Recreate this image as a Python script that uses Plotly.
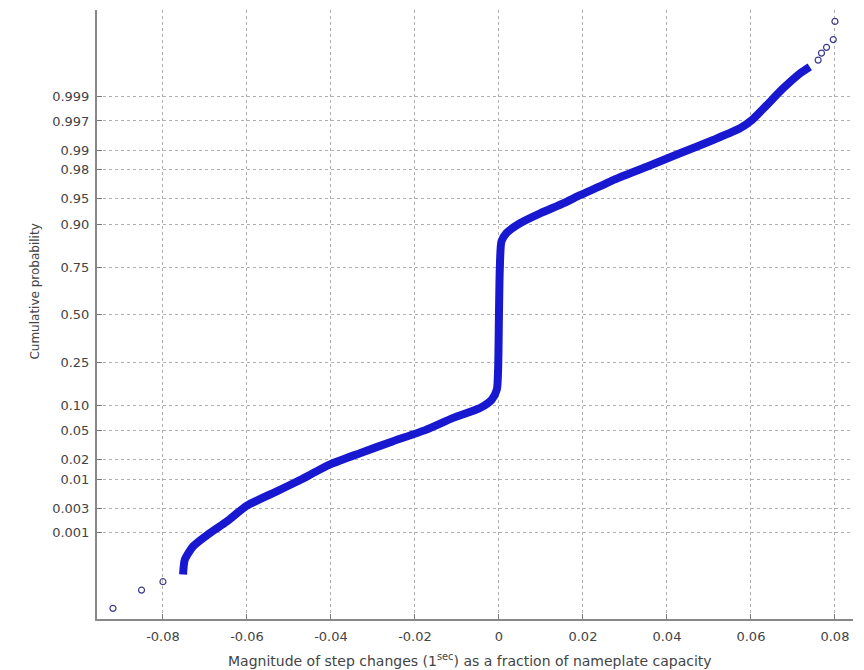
from statistics import NormalDist
import plotly.graph_objects as go

# ---------------- data ----------------
tick_probs = [0.001, 0.003, 0.01, 0.02, 0.05, 0.10, 0.25, 0.50, 0.75, 0.90, 0.95, 0.98, 0.99, 0.997, 0.999]
tick_labels = ["0.001", "0.003", "0.01", "0.02", "0.05", "0.10", "0.25", "0.50", "0.75", "0.90",
               "0.95", "0.98", "0.99", "0.997", "0.999"]
x_ticks = [-0.08, -0.06, -0.04, -0.02, 0, 0.02, 0.04, 0.06, 0.08]
x_tick_labels = ["-0.08", "-0.06", "-0.04", "-0.02", "0", "0.02", "0.04", "0.06", "0.08"]

# sparse tail samples (individual circles)
tail_lo_x = [-0.0919, -0.0851, -0.0800]
tail_lo_p = [1.6e-5, 4.8e-5, 7.8e-5]
tail_hi_x = [0.0760, 0.0768, 0.0780, 0.0796, 0.0800]
tail_hi_p = [0.999847, 0.999896, 0.999925, 0.999952, 0.999984]

# dense body of the sample (overlapping circles form a thick band)
body_x = [-0.0752, -0.0748, -0.0728, -0.0688, -0.0648, -0.0601, -0.0529, -0.0474, -0.0402,
          -0.0331, -0.0252, -0.0174, -0.0109, -0.0045, -0.0017, -0.0005, -0.0002, 0.0,
          0.0002, 0.0006, 0.0018, 0.0050, 0.0098, 0.0153, 0.0193, 0.0240, 0.0272, 0.0352,
          0.0431, 0.0510, 0.0574, 0.0602, 0.0637, 0.0677, 0.0717, 0.0740]
body_p = [1.17e-4, 2.6e-4, 5.2e-4, 0.0010, 0.0017, 0.0034, 0.0062, 0.0096, 0.0170,
          0.0250, 0.0367, 0.0516, 0.0721, 0.0934, 0.115, 0.145, 0.218, 0.492,
          0.739, 0.851, 0.877, 0.903, 0.925, 0.943, 0.955, 0.9656, 0.9719, 0.9821,
          0.9890, 0.9934, 0.9959, 0.9971, 0.9985, 0.99934, 0.99969, 0.99978]

x_title = "Magnitude of step changes (1<sup>sec</sup>) as a fraction of nameplate capacity"
y_title = "Cumulative probability"

# ---------------- normal-probability transform ----------------
nd = NormalDist()
probit = lambda ps: [nd.inv_cdf(p) for p in ps]

fig = go.Figure()
fig.add_trace(go.Scatter(
    x=body_x, y=probit(body_p), mode="lines",
    line=dict(color="#1818d0", width=8, shape="spline", smoothing=0.6),
    hoverinfo="skip", showlegend=False))
fig.add_trace(go.Scatter(
    x=tail_lo_x + tail_hi_x, y=probit(tail_lo_p + tail_hi_p), mode="markers",
    marker=dict(symbol="circle-open", size=6, color="#3c3c8c", line=dict(width=1.2)),
    showlegend=False))

fam = "DejaVu Sans, Verdana, sans-serif"
tick_font = dict(family=fam, size=13, color="#444444")

common = dict(
    ticks="inside", ticklen=5, tickcolor="#777777",
    showline=True, linecolor="#888888", linewidth=2, mirror=False,
    showgrid=True, gridcolor="#b0b0b0", griddash="dot", gridwidth=1,
    zeroline=False, tickfont=tick_font, automargin=False,
)

fig.update_layout(
    width=856, height=662,
    margin=dict(l=89, r=11, t=2, b=51),
    paper_bgcolor="white", plot_bgcolor="white",
    font=dict(family=fam, size=13, color="#444444"),
    xaxis=dict(range=[-0.0957, 0.0843], tickvals=x_ticks, ticktext=x_tick_labels,
               ticklabelstandoff=4, **common),
    yaxis=dict(range=[-4.31, 4.32], tickvals=probit(tick_probs), ticktext=tick_labels,
               ticklabelstandoff=3, **common),
    annotations=[
        dict(text=x_title, xref="paper", yref="paper", x=0.5, y=0, xanchor="center",
             yanchor="middle", yshift=-41, xshift=-5, showarrow=False,
             font=dict(family=fam, size=14, color="#444444")),
        dict(text=y_title, xref="paper", yref="y", x=0, y=0.33, xanchor="center",
             yanchor="middle", xshift=-62, textangle=-90, showarrow=False,
             font=dict(family=fam, size=12, color="#444444")),
    ],
)

fig.write_html("out.html")
